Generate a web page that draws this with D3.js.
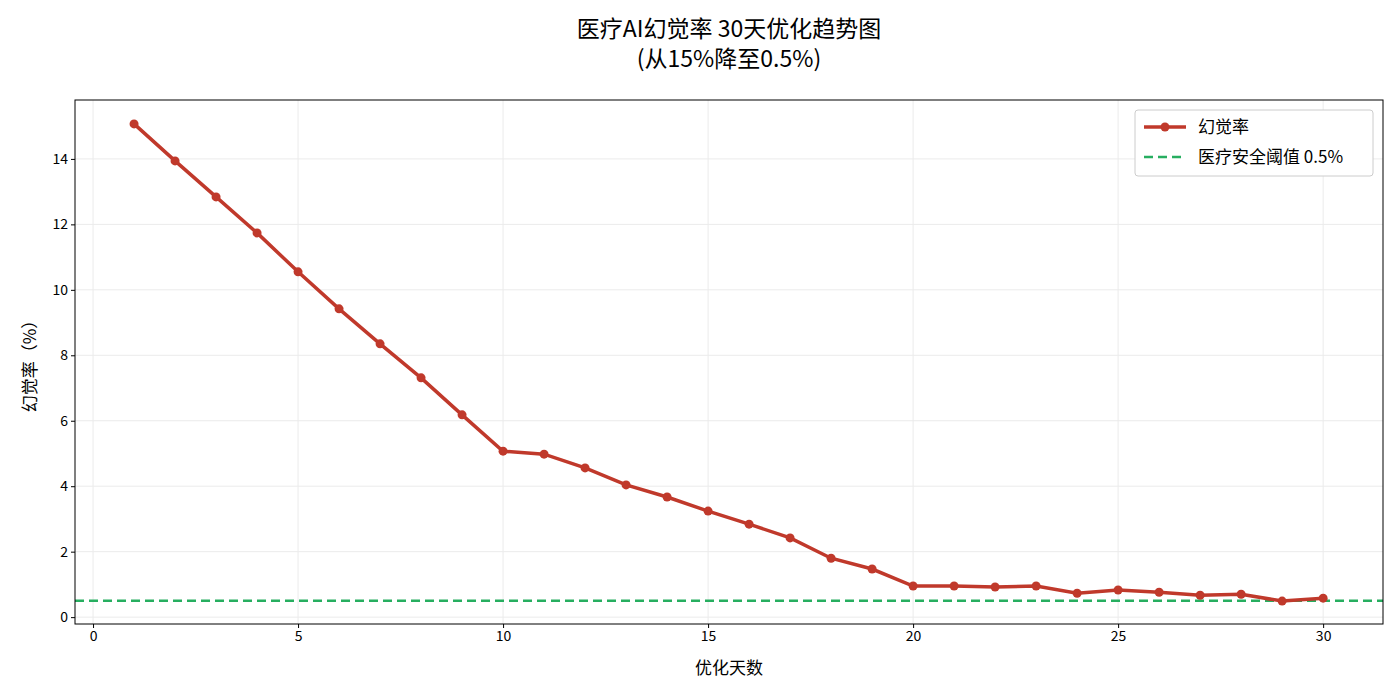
<!DOCTYPE html>
<html><head><meta charset="utf-8">
<script src="https://cdn.jsdelivr.net/npm/d3@7"></script>
<style>body{margin:0;background:#fff}text{font-family:"Noto Sans CJK SC","DejaVu Sans",sans-serif}</style>
</head><body><svg id="c" width="1400" height="700"></svg>
<script>
const days = d3.range(1,31);
const rates = [15.07,13.94,12.84,11.74,10.55,9.42,8.35,7.31,6.18,5.07,4.98,4.56,4.04,3.67,3.24,2.84,2.42,1.80,1.47,0.95,0.95,0.92,0.95,0.73,0.83,0.76,0.67,0.70,0.49,0.58];
const threshold = 0.5;
const xTicks = [0,5,10,15,20,25,30];
const yTicks = [0,2,4,6,8,10,12,14];
const title1 = "医疗AI幻觉率 30天优化趋势图", title2 = "(从15%降至0.5%)";
const L=75,R=1383,T=100,B=624;
const svg=d3.select("#c");
const x=d3.scaleLinear().domain([-0.44,31.46]).range([L,R]);
const y=d3.scaleLinear().domain([-0.21,15.8]).range([B,T]);
const g=svg.append("g");
g.selectAll(".gx").data(xTicks).join("line").attr("x1",d=>x(d)).attr("x2",d=>x(d)).attr("y1",T).attr("y2",B).attr("stroke","#ebebeb");
g.selectAll(".gy").data(yTicks).join("line").attr("y1",d=>y(d)).attr("y2",d=>y(d)).attr("x1",L).attr("x2",R).attr("stroke","#ebebeb");
svg.append("g").attr("transform",`translate(0,${B})`).call(d3.axisBottom(x).tickValues(xTicks).tickSize(4)).call(a=>{a.selectAll("text").attr("font-size",14).attr("fill","#000");a.select(".domain").remove();});
svg.append("g").attr("transform",`translate(${L},0)`).call(d3.axisLeft(y).tickValues(yTicks).tickSize(4)).call(a=>{a.selectAll("text").attr("font-size",14).attr("fill","#000");a.select(".domain").remove();});
svg.append("line").attr("x1",L).attr("x2",R).attr("y1",y(threshold)).attr("y2",y(threshold)).attr("stroke","#27ae60").attr("stroke-width",2.5).attr("stroke-dasharray","9,5");
svg.append("path").datum(days.map((d,i)=>[d,rates[i]])).attr("d",d3.line().x(d=>x(d[0])).y(d=>y(d[1]))).attr("fill","none").attr("stroke","#c0392b").attr("stroke-width",3.5);
svg.selectAll(".pt").data(days).join("circle").attr("cx",d=>x(d)).attr("cy",(d,i)=>y(rates[i])).attr("r",4.5).attr("fill","#c0392b");
svg.append("rect").attr("x",L).attr("y",T).attr("width",R-L).attr("height",B-T).attr("fill","none").attr("stroke","#000");
svg.append("text").attr("x",729).attr("y",37).attr("text-anchor","middle").attr("font-size",23).text(title1);
svg.append("text").attr("x",729).attr("y",67).attr("text-anchor","middle").attr("font-size",23).text(title2);
svg.append("text").attr("x",729).attr("y",674).attr("text-anchor","middle").attr("font-size",17).text("优化天数");
svg.append("text").attr("transform","translate(36,362) rotate(-90)").attr("text-anchor","middle").attr("font-size",17).text("幻觉率（%）");
const lg=svg.append("g");
lg.append("rect").attr("x",1135).attr("y",110).attr("width",238).attr("height",66).attr("rx",3).attr("fill","#fff").attr("stroke","#ccc");
lg.append("line").attr("x1",1144).attr("x2",1186).attr("y1",127).attr("y2",127).attr("stroke","#c0392b").attr("stroke-width",3.5);
lg.append("circle").attr("cx",1165).attr("cy",127).attr("r",4.5).attr("fill","#c0392b");
lg.append("line").attr("x1",1144).attr("x2",1186).attr("y1",157).attr("y2",157).attr("stroke","#27ae60").attr("stroke-width",2.5).attr("stroke-dasharray","9,5");
lg.append("text").attr("x",1198).attr("y",133).attr("font-size",17).text("幻觉率");
lg.append("text").attr("x",1198).attr("y",163).attr("font-size",17).text("医疗安全阈值 0.5%");
</script></body></html>
